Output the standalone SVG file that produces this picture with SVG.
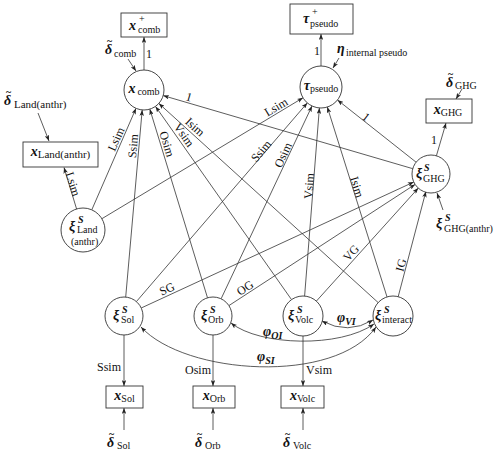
<svg xmlns="http://www.w3.org/2000/svg" width="500" height="451" viewBox="0 0 500 451">
<defs>
<marker id="a" viewBox="0 0 8 6" refX="8" refY="3" markerWidth="6" markerHeight="4.5" markerUnits="userSpaceOnUse" orient="auto-start-reverse"><path d="M0,0 L8,3 L0,6 L2,3 z" fill="#222"/></marker>
<style>
.ln{stroke:#333;stroke-width:0.8;fill:none;marker-end:url(#a)}
.bi{marker-start:url(#a)}
.nd{fill:#fff;stroke:#333;stroke-width:0.9}
text{font-family:"Liberation Serif","DejaVu Serif",serif;fill:#111}
.v{font-size:14px;font-weight:bold;font-style:italic}
.s{font-size:10px}
.s11{font-size:11px}
.si{font-size:10px;font-style:italic;font-weight:bold}
.t{font-size:10px;font-weight:bold}
.el{font-size:12px;text-anchor:middle}
.lb{font-size:12px}
.m{text-anchor:middle}
</style>
</defs>
<rect width="500" height="451" fill="#fff"/>
<g id="connectors">
<line class="ln" x1="91.8" y1="209.8" x2="136.0" y2="108.3"/>
<line class="ln" x1="125.7" y1="297.1" x2="142.2" y2="109.9"/>
<line class="ln" x1="207.5" y1="297.8" x2="149.8" y2="109.1"/>
<line class="ln" x1="291.5" y1="299.6" x2="155.5" y2="106.4"/>
<line class="ln" x1="378.2" y1="302.6" x2="158.8" y2="103.4"/>
<line class="ln" x1="412.8" y1="168.7" x2="163.2" y2="95.6"/>
<line class="ln" x1="101.9" y1="218.7" x2="303.0" y2="97.8"/>
<line class="ln" x1="136.4" y1="301.6" x2="307.3" y2="102.9"/>
<line class="ln" x1="221.1" y1="298.8" x2="312.0" y2="106.0"/>
<line class="ln" x1="304.6" y1="296.1" x2="319.4" y2="107.9"/>
<line class="ln" x1="387.0" y1="296.9" x2="327.3" y2="107.0"/>
<line class="ln" x1="416.1" y1="162.2" x2="337.5" y2="100.0"/>
<line class="ln" x1="141.2" y1="308.0" x2="413.8" y2="182.0"/>
<line class="ln" x1="228.9" y1="305.6" x2="415.1" y2="184.4"/>
<line class="ln" x1="316.4" y1="301.1" x2="418.3" y2="188.1"/>
<line class="ln" x1="398.2" y1="296.7" x2="425.9" y2="191.4"/>
<line class="ln" x1="76.6" y1="209" x2="64" y2="167.5"/>
<line class="ln" x1="144" y1="70" x2="144" y2="37"/>
<line class="ln" x1="321" y1="66" x2="321" y2="34"/>
<line class="ln" x1="436.4" y1="155.8" x2="446" y2="123"/>
<line class="ln" x1="124" y1="335" x2="124" y2="386"/>
<line class="ln" x1="213" y1="335" x2="213" y2="386"/>
<line class="ln" x1="303" y1="336" x2="303" y2="386"/>
<line class="ln" x1="124" y1="430" x2="124" y2="408"/>
<line class="ln" x1="213" y1="430" x2="213" y2="408"/>
<line class="ln" x1="303" y1="430" x2="303" y2="408"/>
<line class="ln" x1="128" y1="59" x2="136" y2="71"/>
<line class="ln" x1="339" y1="58" x2="333" y2="68"/>
<line class="ln" x1="462" y1="89" x2="456" y2="99"/>
<line class="ln" x1="443" y1="210" x2="437" y2="193"/>
<line class="ln" x1="38" y1="113" x2="49" y2="141"/>
<path class="ln bi" d="M322,321 Q348,335 373,320"/>
<path class="ln bi" d="M231,323 C260,346 340,348 374,324"/>
<path class="ln bi" d="M141,327 C185,375 335,385 376,327"/>
<text class="el" transform="translate(73,184) rotate(72)" y="4">Lsim</text>
<text class="el" transform="translate(116,139) rotate(-66)" y="4">Lsim</text>
<text class="el" transform="translate(133,146) rotate(-85)" y="4">Ssim</text>
<text class="el" transform="translate(167,144) rotate(73)" y="4">Osim</text>
<text class="el" transform="translate(184,135) rotate(55)" y="4">Vsim</text>
<text class="el" transform="translate(195,127) rotate(42)" y="4">Isim</text>
<text class="el" transform="translate(189,97) rotate(16)" y="4">1</text>
<text class="el" transform="translate(366,117) rotate(38)" y="4">1</text>
<text class="el" transform="translate(276,107) rotate(-31)" y="4">Lsim</text>
<text class="el" transform="translate(261,151) rotate(-49)" y="4">Ssim</text>
<text class="el" transform="translate(283,155) rotate(-65)" y="4">Osim</text>
<text class="el" transform="translate(309,186) rotate(-85.5)" y="4">Vsim</text>
<text class="el" transform="translate(357,187) rotate(72.5)" y="4">Isim</text>
<text class="el" transform="translate(167,289) rotate(-25)" y="4">SG</text>
<text class="el" transform="translate(245,288) rotate(-33)" y="4">OG</text>
<text class="el" transform="translate(351,253) rotate(-48)" y="4">VG</text>
<text class="el" transform="translate(401,265) rotate(-75)" y="4">IG</text>
<text class="lb" x="146" y="58">1</text>
<text class="lb" x="314" y="55">1</text>
<text class="lb" x="431" y="144">1</text>
<text class="lb" x="121" y="371" text-anchor="end">Ssim</text>
<text class="lb" x="211" y="374" text-anchor="end">Osim</text>
<text class="lb" x="306" y="374">Vsim</text>
<text x="337" y="322"><tspan class="v" font-size="13">φ</tspan><tspan class="si" dy="3">VI</tspan></text>
<text x="263" y="336"><tspan class="v" font-size="13">φ</tspan><tspan class="si" dy="3">OI</tspan></text>
<text x="257" y="361"><tspan class="v" font-size="13">φ</tspan><tspan class="si" dy="3">SI</tspan></text>
</g>
<g id="n-comb-plus">
<rect class="nd" x="121" y="13" width="46" height="24"/>
<text><tspan class="v" x="129" y="30">x</tspan><tspan class="s" x="139" y="22">+</tspan><tspan class="s" x="138" y="33">comb</tspan></text>
</g>
<g id="n-tau-plus">
<rect class="nd" x="290" y="4" width="63" height="30"/>
<text><tspan class="v" x="303" y="23">τ</tspan><tspan class="s" x="312" y="15">+</tspan><tspan class="s" x="310" y="27">pseudo</tspan></text>
</g>
<g id="n-xghg">
<rect class="nd" x="426" y="99" width="46" height="24"/>
<text class="m" x="448" y="114"><tspan class="v">x</tspan><tspan class="s" dy="2">GHG</tspan></text>
</g>
<g id="n-xland">
<rect class="nd" x="23" y="142" width="75" height="25"/>
<text class="m" x="60.5" y="156"><tspan class="v">x</tspan><tspan class="s11" dy="2">Land(anthr)</tspan></text>
</g>
<g id="n-xsol">
<rect class="nd" x="106" y="386" width="37" height="22"/>
<text class="m" x="124.5" y="400"><tspan class="v">x</tspan><tspan class="s" dy="2">Sol</tspan></text>
</g>
<g id="n-xorb">
<rect class="nd" x="193" y="386" width="42" height="22"/>
<text class="m" x="214" y="400"><tspan class="v">x</tspan><tspan class="s" dy="2">Orb</tspan></text>
</g>
<g id="n-xvolc">
<rect class="nd" x="281" y="386" width="43" height="22"/>
<text class="m" x="302.5" y="400"><tspan class="v">x</tspan><tspan class="s" dy="2">Volc</tspan></text>
</g>
<g id="n-comb">
<circle class="nd" cx="144" cy="90" r="20"/>
<text class="m" x="144" y="93"><tspan class="v">x</tspan><tspan class="s" dx="2" dy="2">comb</tspan></text>
</g>
<g id="n-tau">
<circle class="nd" cx="321" cy="87" r="21"/>
<text class="m" x="321" y="90"><tspan class="v">τ</tspan><tspan class="s" dy="2">pseudo</tspan></text>
</g>
<g id="n-ghg">
<circle class="nd" cx="431" cy="174" r="19"/>
<text><tspan class="v" x="416" y="178">ξ</tspan><tspan class="si" x="424" y="171">S</tspan><tspan class="s" x="423" y="182">GHG</tspan></text>
</g>
<g id="n-land">
<circle class="nd" cx="83" cy="230" r="22"/>
<text><tspan class="v" x="69" y="231">ξ</tspan><tspan class="si" x="78" y="223">S</tspan><tspan class="s" x="77" y="233">Land</tspan><tspan class="s" x="71" y="245">(anthr)</tspan></text>
</g>
<g id="n-sol">
<circle class="nd" cx="124" cy="316" r="19"/>
<text><tspan class="v" x="113" y="320">ξ</tspan><tspan class="si" x="122" y="313">S</tspan><tspan class="s" x="121" y="323">Sol</tspan></text>
</g>
<g id="n-orb">
<circle class="nd" cx="213" cy="316" r="19"/>
<text><tspan class="v" x="201" y="320">ξ</tspan><tspan class="si" x="210" y="313">S</tspan><tspan class="s" x="208" y="323">Orb</tspan></text>
</g>
<g id="n-volc">
<circle class="nd" cx="303" cy="316" r="20"/>
<text><tspan class="v" x="288" y="320">ξ</tspan><tspan class="si" x="297" y="313">S</tspan><tspan class="s" x="295" y="323">Volc</tspan></text>
</g>
<g id="n-interact">
<circle class="nd" cx="393" cy="316" r="20"/>
<text><tspan class="v" x="375" y="320">ξ</tspan><tspan class="si" x="384" y="313">S</tspan><tspan class="s" x="382" y="323">interact</tspan></text>
</g>
<g id="lbl-delta-comb"><text><tspan class="v" x="105" y="54">δ</tspan><tspan class="t" x="107" y="44">~</tspan><tspan class="s" x="114" y="57">comb</tspan></text></g>
<g id="lbl-eta"><text><tspan class="v" x="337" y="53">η</tspan><tspan class="s" x="346" y="56">internal pseudo</tspan></text></g>
<g id="lbl-delta-ghg"><text><tspan class="v" x="446" y="87">δ</tspan><tspan class="t" x="448" y="77">~</tspan><tspan class="s" x="455" y="89">GHG</tspan></text></g>
<g id="lbl-ghg-anthr"><text><tspan class="v" x="436" y="228">ξ</tspan><tspan class="si" x="445" y="221">S</tspan><tspan class="s" x="444" y="232">GHG(anthr)</tspan></text></g>
<g id="lbl-delta-land"><text><tspan class="v" x="4" y="105">δ</tspan><tspan class="t" x="6" y="95">~</tspan><tspan class="s11" x="14" y="108">Land(anthr)</tspan></text></g>
<g id="lbl-delta-sol"><text><tspan class="v" x="107" y="447">δ</tspan><tspan class="t" x="109" y="437">~</tspan><tspan class="s" x="117" y="449">Sol</tspan></text></g>
<g id="lbl-delta-orb"><text><tspan class="v" x="195" y="447">δ</tspan><tspan class="t" x="197" y="437">~</tspan><tspan class="s" x="205" y="449">Orb</tspan></text></g>
<g id="lbl-delta-volc"><text><tspan class="v" x="283" y="447">δ</tspan><tspan class="t" x="285" y="437">~</tspan><tspan class="s" x="293" y="449">Volc</tspan></text></g>
</svg>
